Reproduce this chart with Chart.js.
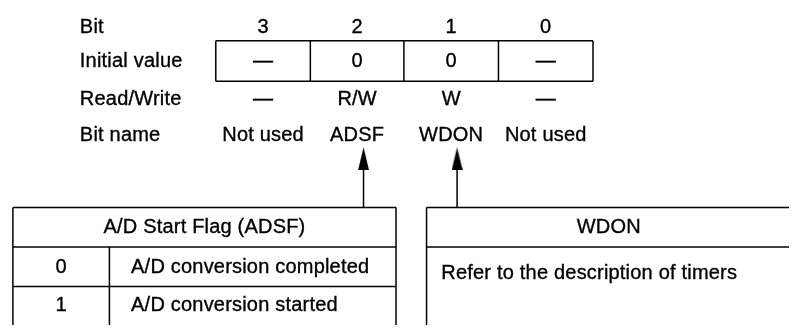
<!DOCTYPE html>
<html><head><meta charset="utf-8">
<script src="https://cdn.jsdelivr.net/npm/chart.js@4.4.1/dist/chart.umd.min.js"></script>
<style>html,body{margin:0;padding:0;background:#fff}canvas{display:block}</style>
</head><body>
<canvas id="c" width="795" height="331"></canvas>
<script>
// ---- data (text content of the register diagram) ----
const rowLabels = ['Bit', 'Initial value', 'Read/Write', 'Bit name'];
const bits = ['3', '2', '1', '0'];
const initialValues = ['—', '0', '0', '—'];
const readWrite = ['—', 'R/W', 'W', '—'];
const bitNames = ['Not used', 'ADSF', 'WDON', 'Not used'];
const adsfTitle = 'A/D Start Flag (ADSF)';
const adsfValues = ['0', '1'];
const adsfMeanings = ['A/D conversion completed', 'A/D conversion started'];
const wdonTitle = 'WDON';
const wdonText = 'Refer to the description of timers';

// ---- layout (in layout-scale units, converted through the chart scales) ----
const FONT = '"Liberation Sans", Arial, Helvetica, sans-serif';
const FS = 20;
const LS = '0.2px';
const INK = '#000';
const colEdges = [213, 309, 404, 500, 596];
const rowY = [22, 58, 97, 134];
const regTop = 36, regBottom = 78;
const labelX = 75;

function arrowHead(w, h) {
  const c = document.createElement('canvas');
  c.width = w; c.height = h;
  const g = c.getContext('2d');
  g.fillStyle = INK;
  g.beginPath(); g.moveTo(w / 2, 0); g.lineTo(w, h); g.lineTo(0, h); g.closePath(); g.fill();
  return c;
}
const head = arrowHead(11, 23);
const arrowX = [363, 458];

const diagram = {
  id: 'diagram',
  afterDatasetsDraw(chart) {
    const ctx = chart.ctx;
    const sx = v => chart.scales.x.getPixelForValue(v);
    const sy = v => chart.scales.y.getPixelForValue(v);
    ctx.save();
    ctx.strokeStyle = INK; ctx.fillStyle = INK;
    ctx.font = FS + 'px ' + FONT;
    ctx.letterSpacing = LS;
    ctx.textBaseline = 'middle';
    const line = (x1, y1, x2, y2) => { ctx.lineWidth = 1.5; ctx.beginPath(); ctx.moveTo(sx(x1), sy(y1)); ctx.lineTo(sx(x2), sy(y2)); ctx.stroke(); };
    const text = (t, x, y, align) => {
      ctx.textAlign = align || 'center';
      ctx.fillText(t, sx(x), sy(y));
      ctx.lineWidth = 0.35; ctx.strokeText(t, sx(x), sy(y));
    };

    // row labels
    rowLabels.forEach((l, i) => text(l, labelX, rowY[i], 'left'));
    // register cells
    line(colEdges[0], regTop, colEdges[4], regTop);
    line(colEdges[0], regBottom, colEdges[4], regBottom);
    colEdges.forEach(x => line(x, regTop, x, regBottom));
    const rows = [bits, initialValues, readWrite, bitNames];
    rows.forEach((r, ri) => r.forEach((t, ci) => {
      const cx = (colEdges[ci] + colEdges[ci + 1]) / 2;
      text(t, cx, rowY[ri]);
    }));

    // ADSF table
    const L = 7, R = 396, T = 209, B = 331;
    line(L, T, R, T); line(L, T, L, B); line(R, T, R, B);
    line(L, 250, R, 250); line(L, 291, R, 291); line(105, 250, 105, B);
    text(adsfTitle, (L + R) / 2, 230);
    const ry = [271, 311];
    adsfValues.forEach((v, i) => text(v, 56, ry[i]));
    adsfMeanings.forEach((m, i) => text(m, 127, ry[i], 'left'));

    // WDON table
    const L2 = 427, R2 = 795;
    line(L2, T, R2, T); line(L2, T, L2, B); line(L2, 250, R2, 250);
    text(wdonTitle, 612, 230);
    text(wdonText, 442, 278, 'left');
    ctx.restore();
  }
};

new Chart(document.getElementById('c'), {
  type: 'line',
  data: {
    datasets: arrowX.map(x => ({
      data: [{ x: x, y: 158.5 }, { x: x, y: 209 }],
      borderColor: INK,
      borderWidth: 1.5,
      pointStyle: [head, 'circle'],
      pointRadius: [6, 0.1],
      pointBackgroundColor: INK,
      pointBorderWidth: 0,
      fill: false
    }))
  },
  options: {
    responsive: false,
    animation: false,
    events: [],
    layout: { padding: 0 },
    plugins: { legend: { display: false }, tooltip: { enabled: false } },
    scales: {
      x: { type: 'linear', min: 0, max: 795, display: false },
      y: { type: 'linear', min: 0, max: 331, reverse: true, display: false }
    }
  },
  plugins: [diagram]
});
</script>
</body></html>
